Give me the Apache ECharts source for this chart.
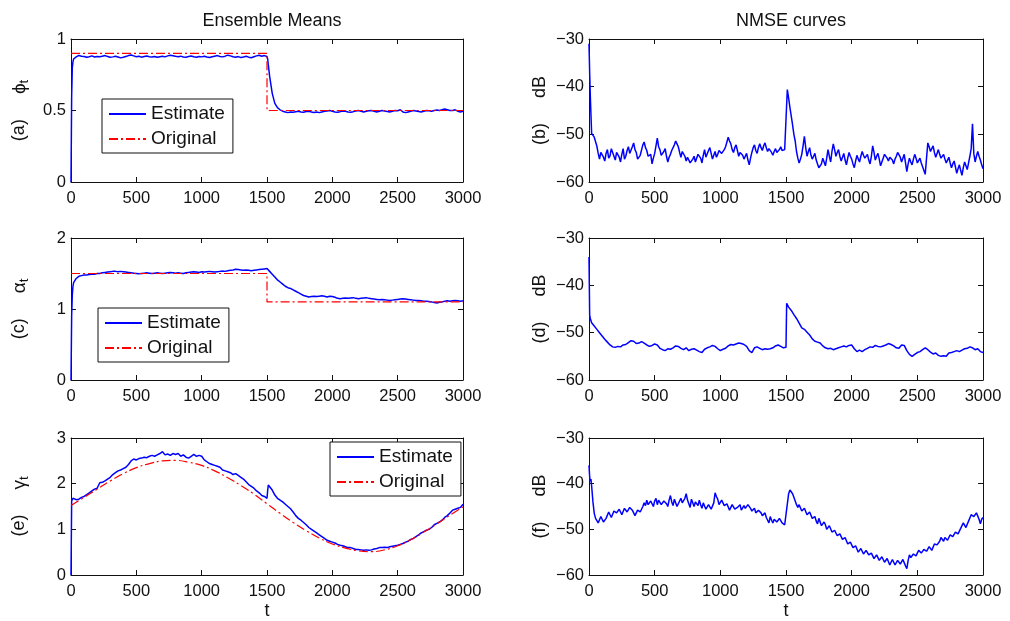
<!DOCTYPE html>
<html><head><meta charset="utf-8">
<script src="https://cdn.jsdelivr.net/npm/echarts/dist/echarts.min.js"></script>
<style>html,body{margin:0;padding:0;background:#fff}#c{width:1010px;height:621px}</style>
</head><body><div id="c"></div>
<script>
// ---------- sampling times (x grids of the read-off values) ----------
const T = [0, 5, 10, 15];
for (let t = 20; t <= 1500; t += 20) T.push(t);
T.push(1505, 1510);
for (let t = 1520; t <= 3000; t += 20) T.push(t);
// finer grid for the noisy NMSE curves (b) and (f)
const T10 = [0, 5, 10, 15];
for (let t = 20; t <= 3000; t += 10) T10.push(t);

const xTicks = [0, 500, 1000, 1500, 2000, 2500, 3000];
const legendNames = ['Estimate', 'Original'];

// ---------- (a) phi_t ----------
const phiEst = [
  0, 0.6, 0.8, 0.84,
  0.86,0.875,0.885,0.88,0.878,0.872,0.876,0.882,0.874,0.878,
  0.876,0.88,0.884,0.878,0.872,0.875,0.879,0.874,0.868,0.872,
  0.878,0.884,0.888,0.882,0.876,0.879,0.873,0.877,0.881,0.876,
  0.874,0.878,0.872,0.876,0.879,0.875,0.882,0.886,0.883,0.879,
  0.876,0.88,0.874,0.872,0.877,0.881,0.876,0.873,0.878,0.875,
  0.879,0.874,0.871,0.876,0.88,0.884,0.878,0.875,0.88,0.887,
  0.882,0.876,0.872,0.877,0.87,0.874,0.879,0.873,0.869,0.876,
  0.882,0.886,0.879,0.884,0.878,
  0.86, 0.82,
  0.74,0.62,0.55,0.52,0.505,0.495,0.49,0.485,0.49,0.488,
  0.492,0.495,0.49,0.488,0.493,0.495,0.49,0.486,0.49,0.485,
  0.49,0.495,0.497,0.5,0.495,0.49,0.488,0.492,0.497,0.495,
  0.49,0.488,0.492,0.497,0.5,0.495,0.49,0.495,0.498,0.5,
  0.495,0.49,0.495,0.5,0.497,0.493,0.49,0.495,0.5,0.498,
  0.505,0.49,0.485,0.49,0.495,0.5,0.497,0.493,0.49,0.495,
  0.5,0.498,0.495,0.5,0.503,0.5,0.505,0.51,0.505,0.5,
  0.5,0.505,0.495,0.49,0.495
];
const phiOrigT = [0, 1500, 1500, 3000];
const phiOrig  = [0.9, 0.9, 0.5, 0.5];

// ---------- (c) alpha_t ----------
const alphaEst = [
  0, 0.9, 1.2, 1.32,
  1.37,1.43,1.46,1.47,1.48,1.48,1.485,1.49,1.49,1.5,
  1.5,1.51,1.515,1.52,1.525,1.53,1.53,1.525,1.53,1.525,
  1.52,1.515,1.51,1.505,1.5,1.495,1.5,1.505,1.51,1.505,
  1.5,1.505,1.51,1.505,1.5,1.505,1.51,1.515,1.51,1.505,
  1.51,1.505,1.5,1.51,1.515,1.52,1.525,1.52,1.515,1.525,
  1.52,1.525,1.53,1.525,1.52,1.525,1.53,1.535,1.53,1.54,
  1.545,1.55,1.56,1.555,1.55,1.545,1.55,1.545,1.54,1.545,
  1.55,1.555,1.56,1.565,1.57,
  1.565, 1.555,
  1.53,1.49,1.45,1.41,1.38,1.35,1.32,1.3,1.29,1.27,
  1.25,1.23,1.21,1.19,1.18,1.17,1.175,1.18,1.175,1.18,
  1.185,1.18,1.17,1.18,1.175,1.165,1.15,1.145,1.15,1.155,
  1.15,1.155,1.16,1.15,1.145,1.15,1.155,1.16,1.15,1.145,
  1.14,1.135,1.13,1.135,1.13,1.125,1.12,1.125,1.13,1.135,
  1.14,1.145,1.14,1.135,1.13,1.125,1.12,1.12,1.115,1.11,
  1.11,1.105,1.1,1.09,1.085,1.095,1.1,1.11,1.115,1.11,
  1.115,1.12,1.115,1.11,1.115
];
const alphaOrigT = [0, 1500, 1500, 3000];
const alphaOrig  = [1.5, 1.5, 1.1, 1.1];

// ---------- (e) gamma_t ----------
const gammaEst = [
  0, 1.62, 1.66, 1.68,
  1.67,1.65,1.66,1.7,1.72,1.76,1.8,1.84,1.88,1.9,
  2.02,2.03,2.06,2.1,2.14,2.2,2.24,2.28,2.3,2.33,
  2.36,2.42,2.5,2.54,2.52,2.55,2.56,2.58,2.57,2.6,
  2.62,2.6,2.63,2.66,2.7,2.63,2.65,2.62,2.66,2.64,
  2.66,2.6,2.63,2.58,2.56,2.6,2.64,2.6,2.62,2.6,
  2.52,2.48,2.44,2.42,2.4,2.38,2.36,2.3,2.28,2.26,
  2.24,2.2,2.22,2.18,2.14,2.1,2.04,1.98,1.94,1.9,
  1.84,1.8,1.74,1.72,1.68,
  1.85, 1.97,
  1.95,1.86,1.75,1.68,1.64,1.6,1.55,1.5,1.45,1.38,
  1.3,1.24,1.2,1.15,1.1,1.04,1.0,0.96,0.92,0.88,
  0.84,0.8,0.76,0.74,0.72,0.7,0.67,0.65,0.64,0.62,
  0.6,0.6,0.58,0.56,0.56,0.55,0.54,0.55,0.54,0.55,
  0.57,0.58,0.6,0.6,0.61,0.6,0.62,0.63,0.64,0.65,
  0.67,0.69,0.72,0.74,0.78,0.8,0.84,0.88,0.92,0.95,
  0.98,1.0,1.04,1.1,1.13,1.16,1.2,1.26,1.3,1.36,
  1.42,1.44,1.46,1.48,1.55
];
const gammaOrigT = [0,100,200,300,400,500,600,700,800,900,1000,1100,1200,1300,1400,1500,
  1600,1700,1800,1900,2000,2100,2200,2300,2400,2500,2600,2700,2800,2900,3000];
const gammaOrig = [1.52,1.7,1.88,2.06,2.22,2.35,2.44,2.5,2.51,2.47,2.4,2.28,2.13,1.96,1.77,1.56,
  1.35,1.15,0.97,0.81,0.68,0.59,0.53,0.51,0.55,0.64,0.77,0.94,1.12,1.31,1.49];

// ---------- (b) NMSE of phi (grid T10) ----------
const nmseB = [
  -31, -37, -42, -46,
  -49.8,-50.2,-50.6,-51.0,-52.5,-54.0,-55.2,-53.8,-53.4,-54.8,
  -55.6,-54.0,-53.2,-55.0,-54.5,-53.0,-52.8,-54.6,-55.4,-53.8,
  -53.6,-54.8,-55.8,-54.2,-53.0,-55.2,-54.6,-53.4,-52.6,-54.0,
  -54.2,-52.6,-51.8,-53.2,-53.8,-55.2,-55.6,-54.4,-54.0,-52.2,
  -51.6,-52.8,-53.4,-54.6,-55.0,-54.2,-56.2,-55.0,-54.0,-52.4,
  -50.8,-52.6,-53.2,-54.4,-54.8,-53.6,-53.0,-54.6,-55.8,-54.8,
  -54.2,-53.4,-53.0,-52.2,-51.4,-52.0,-52.6,-53.8,-54.8,-53.6,
  -53.2,-54.6,-55.6,-54.8,-55.0,-56.0,-56.4,-55.2,-54.6,-55.8,
  -55.4,-54.2,-53.8,-55.0,-56.0,-54.4,-53.2,-54.8,-54.6,-53.4,
  -52.8,-54.0,-55.2,-54.4,-53.6,-54.8,-54.2,-53.4,-53.0,-54.0,
  -54.4,-53.2,-52.6,-51.6,-50.6,-51.4,-52.0,-53.2,-53.8,-52.8,
  -52.2,-53.4,-54.6,-53.8,-53.4,-54.4,-55.2,-54.6,-54.0,-55.4,
  -56.4,-55.0,-53.8,-52.8,-52.2,-53.4,-54.0,-52.8,-52.0,-52.8,
  -53.4,-52.4,-51.8,-52.8,-53.6,-53.0,-52.8,-53.8,-54.4,-53.6,
  -53.0,-53.8,-54.2,-53.2,-52.6,-53.4,-53.8,-53.2,-53.4,-40.6,
  -42.4,-44.4,-46.2,-48.0,-50.0,-51.4,-53.6,-55.0,-56.0,-55.2,
  -54.2,-52.4,-50.4,-52.8,-54.6,-53.6,-52.8,-54.4,-55.2,-54.6,
  -54.0,-55.4,-56.2,-57.0,-57.4,-56.2,-55.0,-55.8,-56.6,-55.0,
  -53.2,-54.6,-55.8,-53.6,-52.0,-53.2,-54.6,-53.8,-53.2,-54.6,
  -55.6,-54.8,-54.0,-55.4,-56.4,-55.0,-53.8,-54.6,-55.2,-56.2,
  -57.0,-55.6,-54.4,-55.2,-55.8,-54.6,-53.6,-54.4,-55.0,-54.8,
  -54.2,-55.4,-56.2,-54.6,-52.4,-53.8,-55.4,-54.6,-54.0,-55.2,
  -56.6,-55.8,-55.0,-54.2,-53.8,-55.0,-55.6,-54.8,-54.4,-55.4,
  -56.2,-55.2,-54.6,-53.8,-53.4,-54.8,-55.8,-55.0,-54.2,-56.0,
  -57.8,-56.2,-55.0,-55.8,-56.4,-55.2,-54.2,-55.0,-56.0,-55.6,
  -55.0,-56.0,-56.8,-57.6,-58.4,-55.0,-51.8,-52.6,-53.6,-53.0,
  -52.4,-53.8,-54.8,-54.0,-53.2,-54.2,-55.0,-54.6,-54.2,-55.2,
  -56.0,-55.4,-54.8,-56.0,-57.0,-56.2,-55.6,-56.8,-58.2,-57.2,
  -56.4,-57.6,-58.6,-57.0,-55.8,-56.6,-57.4,-56.0,-54.6,-53.0,
  -47.8,-54.0,-55.8,-54.6,-53.6,-54.6,-55.4,-56.4,-57.2
];

// ---------- (d) NMSE of alpha (grid T) ----------
const nmseD = [
  -34, -46.3, -47, -47.4,
  -47.9,-48.6,-49.3,-50.0,-50.7,-51.4,-52.0,-52.6,-53.0,-53.1,
  -52.9,-53.0,-52.6,-52.5,-52.1,-51.7,-51.8,-52.3,-52.2,-51.9,
  -52.2,-52.6,-52.9,-52.7,-52.4,-52.6,-53.3,-53.6,-53.8,-53.4,
  -53.5,-53.2,-52.8,-52.9,-53.3,-53.6,-53.2,-53.8,-53.5,-53.4,
  -53.7,-54.0,-54.2,-53.5,-53.2,-53.0,-52.7,-52.9,-53.4,-53.8,
  -53.5,-53.3,-52.8,-52.5,-52.6,-52.4,-52.2,-52.3,-52.5,-52.9,
  -53.8,-54.2,-53.2,-53.0,-53.3,-53.6,-53.4,-53.5,-53.4,-53.2,
  -52.8,-52.6,-52.9,-53.2,-53.1,
  -43.8, -44.0,
  -44.6,-45.3,-46.2,-47.0,-48.0,-49.0,-49.3,-49.9,-50.5,-51.3,
  -51.8,-52.0,-52.2,-52.8,-53.2,-53.4,-53.3,-53.6,-53.4,-53.2,
  -53.0,-52.8,-53.0,-52.7,-52.6,-53.4,-54.0,-53.7,-54.0,-53.6,
  -53.3,-53.0,-53.1,-52.7,-52.9,-53.0,-52.8,-52.6,-52.3,-52.5,
  -52.8,-53.2,-53.3,-52.6,-52.7,-53.8,-54.6,-55.0,-54.6,-54.2,
  -54.0,-53.6,-53.2,-53.6,-54.1,-54.5,-54.3,-54.8,-55.0,-54.9,
  -55.0,-54.3,-54.2,-54.0,-53.8,-54.0,-53.7,-53.4,-53.3,-53.0,
  -53.2,-53.6,-53.4,-54.0,-54.2
];

// ---------- (f) NMSE of gamma (grid T10) ----------
const nmseF = [
  -36, -38.5, -39.5, -39,
  -40.5,-44.0,-46.5,-47.6,-47.8,-48.6,-48.3,-47.2,-47.4,-48.4,
  -48.8,-47.6,-47.2,-46.2,-46.4,-47.4,-47.0,-46.0,-45.6,-46.4,
  -46.8,-45.6,-45.8,-46.8,-46.6,-45.4,-45.2,-46.2,-46.4,-45.2,
  -44.8,-45.8,-46.2,-47.0,-46.8,-45.8,-45.4,-46.2,-46.6,-45.0,
  -44.2,-44.8,-43.6,-44.6,-45.0,-43.8,-44.4,-45.0,-43.8,-43.2,
  -44.6,-43.6,-43.4,-44.6,-44.8,-43.8,-43.6,-44.4,-45.0,-43.6,
  -42.6,-44.0,-44.8,-43.4,-43.8,-45.0,-45.2,-43.8,-43.2,-44.2,
  -44.6,-43.2,-42.2,-43.6,-44.0,-45.2,-43.4,-44.2,-45.0,-44.0,
  -44.2,-44.8,-43.6,-44.6,-45.4,-44.2,-44.0,-45.6,-45.8,-44.6,
  -44.6,-45.6,-46.0,-44.2,-42.0,-42.8,-43.4,-44.6,-44.8,-43.6,
  -43.8,-44.8,-45.2,-44.4,-44.6,-45.8,-45.6,-44.6,-44.4,-45.6,
  -46.0,-45.2,-45.0,-44.6,-45.8,-46.2,-44.8,-45.4,-45.6,-44.6,
  -44.8,-45.4,-46.0,-45.6,-45.4,-46.4,-46.2,-45.8,-45.6,-46.4,
  -47.0,-46.8,-46.4,-47.4,-48.0,-48.6,-47.2,-48.0,-48.6,-47.8,
  -47.4,-48.4,-48.2,-47.6,-47.6,-48.6,-48.4,-49.0,-48.8,-44.5,
  -42.2,-41.4,-41.8,-42.2,-43.0,-43.4,-44.6,-45.2,-44.6,-44.8,
  -46.0,-46.4,-45.4,-45.6,-46.8,-47.2,-46.2,-46.6,-47.6,-48.0,
  -47.2,-48.2,-48.8,-47.6,-48.0,-49.2,-49.6,-48.4,-49.0,-50.0,
  -50.4,-49.2,-49.4,-50.6,-51.0,-50.2,-50.6,-51.4,-51.8,-51.0,
  -51.2,-52.2,-52.6,-51.8,-52.0,-53.2,-53.6,-52.8,-53.0,-54.0,
  -54.4,-53.6,-54.0,-55.0,-55.0,-54.2,-54.4,-55.4,-55.2,-54.6,
  -54.8,-55.6,-56.0,-55.2,-55.4,-56.4,-56.4,-55.6,-55.8,-56.8,
  -56.8,-56.0,-56.2,-57.2,-57.2,-56.4,-56.6,-57.8,-57.4,-56.6,
  -56.8,-57.8,-57.6,-56.8,-56.6,-57.6,-57.8,-56.6,-56.4,-58.0,
  -58.6,-56.8,-55.6,-56.2,-56.4,-55.4,-55.0,-55.8,-55.4,-54.6,
  -54.6,-55.2,-55.0,-54.4,-54.2,-54.8,-54.8,-53.8,-53.8,-54.6,
  -54.2,-53.2,-52.8,-53.4,-53.6,-52.6,-51.8,-52.2,-52.6,-51.8,
  -51.6,-52.4,-52.2,-51.2,-50.8,-51.6,-51.4,-50.6,-50.4,-51.0,
  -50.8,-49.8,-49.8,-48.6,-48.8,-49.6,-49.4,-48.2,-47.8,-46.8,
  -46.6,-47.2,-47.6,-46.4,-46.4,-47.8,-48.8,-47.8,-47.4
];

// ---------- chart ----------
const FONT = '"Liberation Sans", Arial, Helvetica, sans-serif';
const INK = '#111';
const BLUE = '#0000ff';
const RED = '#ff0000';
const DASHDOT = [9, 3, 2, 3];

function pairs(ts, vs) { return ts.map((t, i) => [t, vs[i]]); }

const L = { left: 71, width: 392 };
const R = { left: 589, width: 394 };
const rows = [{ top: 39, height: 143 }, { top: 238, height: 142 }, { top: 438, height: 141 }];

const panels = [
  { col: L, row: rows[0], ymin: 0, ymax: 1, yint: 0.5, lab: '(a)', sym: 'ϕ', t: T, est: phiEst, origT: phiOrigT, orig: phiOrig, dB: false },
  { col: R, row: rows[0], ymin: -60, ymax: -30, yint: 10, lab: '(b)', t: T10, est: nmseB, dB: true },
  { col: L, row: rows[1], ymin: 0, ymax: 2, yint: 1, lab: '(c)', sym: 'α', t: T, est: alphaEst, origT: alphaOrigT, orig: alphaOrig, dB: false },
  { col: R, row: rows[1], ymin: -60, ymax: -30, yint: 10, lab: '(d)', t: T, est: nmseD, dB: true },
  { col: L, row: rows[2], ymin: 0, ymax: 3, yint: 1, lab: '(e)', sym: 'γ', t: T, est: gammaEst, origT: gammaOrigT, orig: gammaOrig, dB: false, smoothOrig: true },
  { col: R, row: rows[2], ymin: -60, ymax: -30, yint: 10, lab: '(f)', t: T10, est: nmseF, dB: true }
];

const grid = [], xAxis = [], yAxis = [], series = [];
const axisLineStyle = { color: INK, width: 1 };
const fmtMinus = v => String(v).replace('-', '\u2212');
const fmtPlain = v => String(v);

panels.forEach((p, i) => {
  grid.push({ left: p.col.left, top: p.row.top, width: p.col.width, height: p.row.height, containLabel: false });
  const bottomRow = (i >= 4);
  const xBase = {
    gridIndex: i, type: 'value', min: 0, max: 3000, interval: 500,
    axisLine: { show: true, onZero: false, lineStyle: axisLineStyle },
    axisTick: { show: true, inside: true, length: 5, lineStyle: axisLineStyle },
    splitLine: { show: false }
  };
  xAxis.push(Object.assign({}, xBase, {
    position: 'bottom',
    axisLabel: { show: true, color: INK, fontSize: 16.5, fontFamily: FONT, margin: 8, formatter: fmtPlain },
    name: bottomRow ? 't' : '', nameLocation: 'middle', nameGap: 27,
    nameTextStyle: { color: INK, fontSize: 18, fontFamily: FONT }
  }));
  xAxis.push(Object.assign({}, xBase, { position: 'top', axisLabel: { show: false } }));

  const yBase = {
    gridIndex: i, type: 'value', min: p.ymin, max: p.ymax, interval: p.yint,
    axisLine: { show: true, onZero: false, lineStyle: axisLineStyle },
    axisTick: { show: true, inside: true, length: 5, lineStyle: axisLineStyle },
    splitLine: { show: false }
  };
  const yName = p.dB ? p.lab + '     dB' : p.lab + '     {g|' + p.sym + '}{s|t}';
  yAxis.push(Object.assign({}, yBase, {
    position: 'left',
    axisLabel: { show: true, color: INK, fontSize: 16.5, fontFamily: FONT, margin: 5, formatter: fmtMinus },
    name: yName, nameLocation: 'middle', nameRotate: 90, nameGap: 40,
    nameTextStyle: {
      color: INK, fontSize: 18, fontFamily: FONT,
      rich: {
        g: { fontSize: 19, fontFamily: FONT, color: INK },
        s: { fontSize: 13, fontFamily: FONT, color: INK, verticalAlign: 'bottom', padding: [10, 0, 0, 0] }
      }
    }
  }));
  yAxis.push(Object.assign({}, yBase, { position: 'right', axisLabel: { show: false } }));

  series.push({
    type: 'line', name: 'Estimate', xAxisIndex: 2 * i, yAxisIndex: 2 * i,
    data: pairs(p.t, p.est), showSymbol: false, symbol: 'none',
    lineStyle: { color: BLUE, width: 1.5 }, itemStyle: { color: BLUE },
    animation: false, z: 3
  });
  if (p.orig) {
    series.push({
      type: 'line', name: 'Original', xAxisIndex: 2 * i, yAxisIndex: 2 * i,
      data: pairs(p.origT, p.orig), showSymbol: false, symbol: 'none',
      smooth: p.smoothOrig ? 0.4 : false,
      lineStyle: { color: RED, width: 1.2, type: DASHDOT }, itemStyle: { color: RED },
      animation: false, z: 4
    });
  }
});

function legendAt(left, top) {
  return {
    data: legendNames, orient: 'vertical', left: left, top: top,
    selectedMode: false, backgroundColor: '#fff', borderColor: INK, borderWidth: 1,
    padding: [4, 8, 3, 6], itemGap: 3, itemWidth: 37, itemHeight: 14,
    itemStyle: { opacity: 0 },
    textStyle: { color: INK, fontSize: 19, fontFamily: FONT, lineHeight: 22 }
  };
}

const option = {
  animation: false,
  backgroundColor: '#fff',
  title: [
    { text: 'Ensemble Means', left: 267, top: 7, textAlign: 'center',
      textStyle: { color: INK, fontSize: 18, fontWeight: 'normal', fontFamily: FONT } },
    { text: 'NMSE curves', left: 786, top: 7, textAlign: 'center',
      textStyle: { color: INK, fontSize: 18, fontWeight: 'normal', fontFamily: FONT } }
  ],
  legend: [legendAt(102, 99), legendAt(98, 308), legendAt(330, 442)],
  grid: grid, xAxis: xAxis, yAxis: yAxis, series: series
};

const chart = echarts.init(document.getElementById('c'), null, { renderer: 'canvas' });
chart.setOption(option);
</script>
</body></html>
